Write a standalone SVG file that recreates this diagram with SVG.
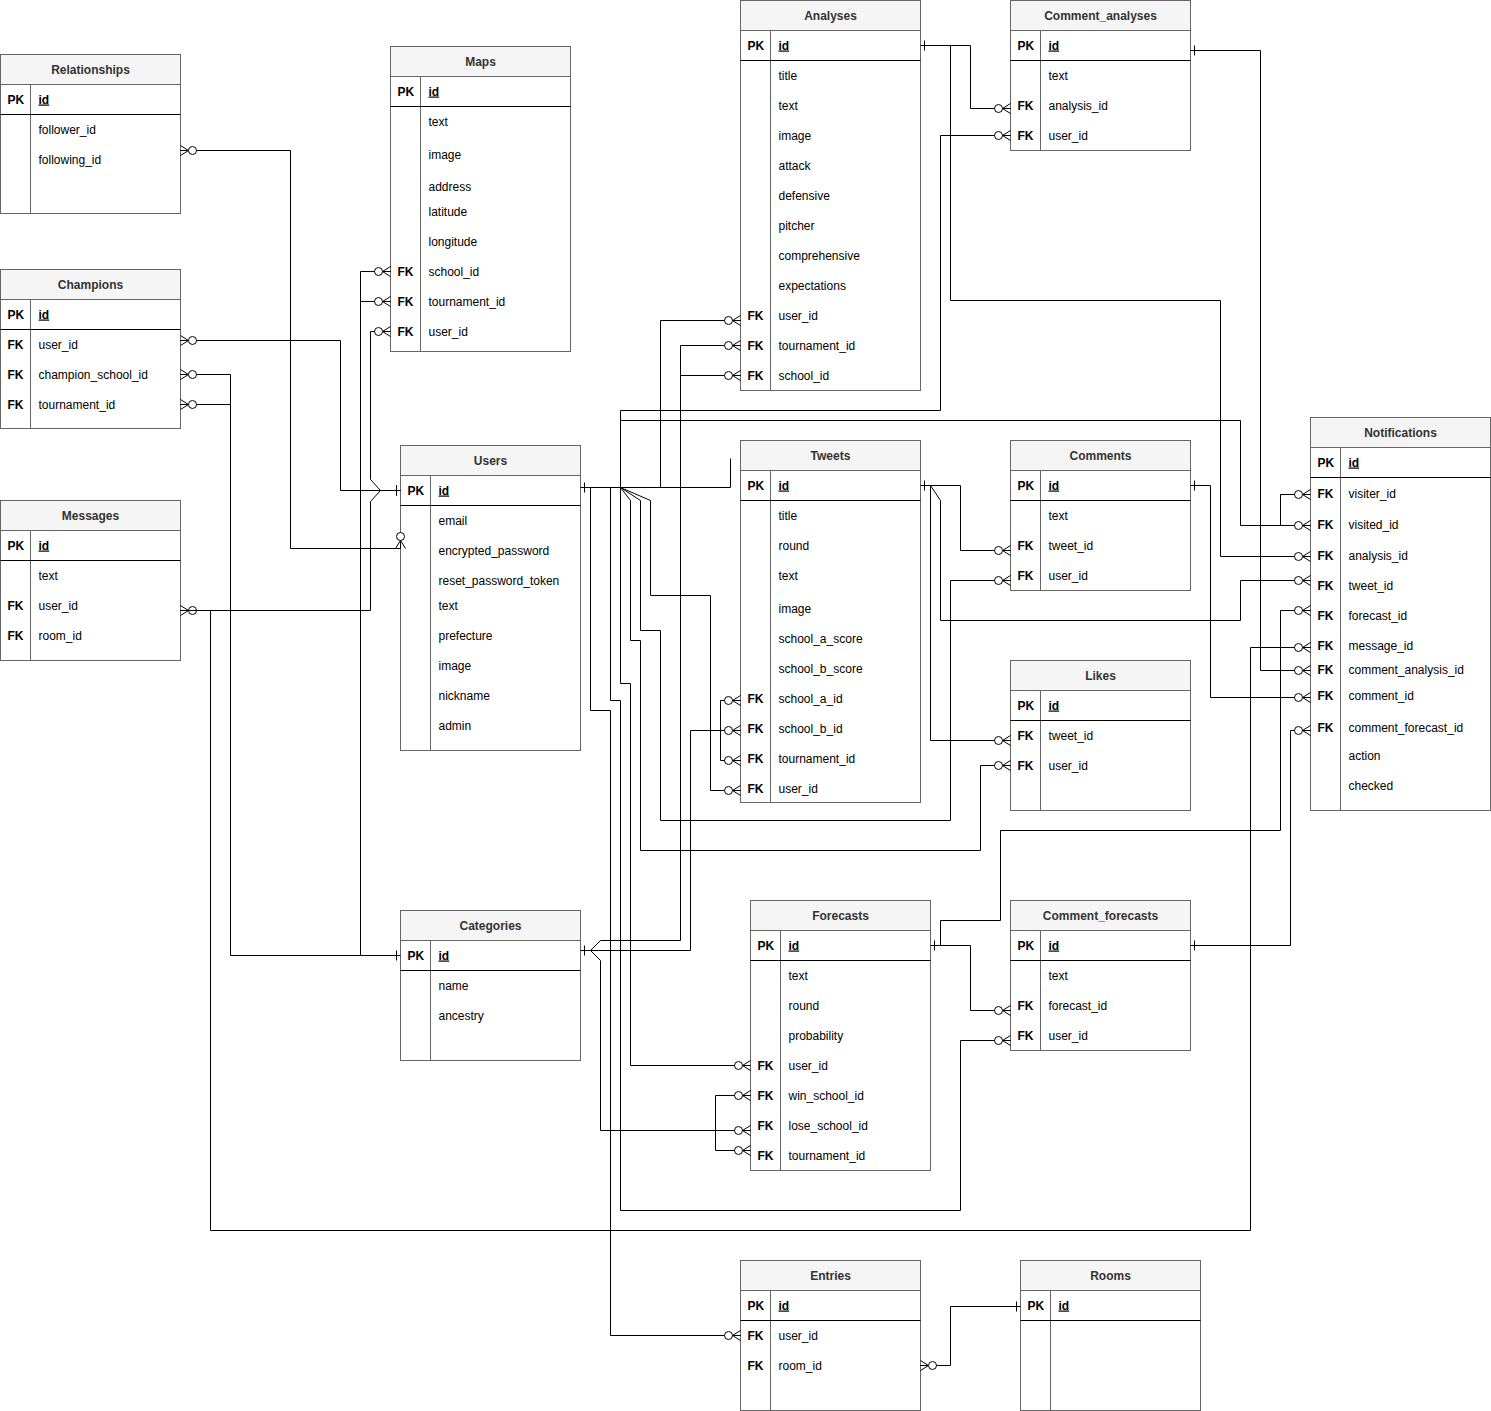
<svg xmlns="http://www.w3.org/2000/svg" width="1491" height="1411" viewBox="0 0 1491 1411">
<defs>
<style>
.bx{fill:#fff;stroke:#666;stroke-width:1}
.hd{fill:#f5f5f5;stroke:#666;stroke-width:1}
.sp{stroke:#000;stroke-width:1}
.dv{stroke:#666;stroke-width:1}
.tt{font-family:"Liberation Sans",Arial,sans-serif;font-size:12px;font-weight:bold;fill:#333;text-anchor:middle}
.k{font-family:"Liberation Sans",Arial,sans-serif;font-size:12px;font-weight:bold;fill:#000}
.f{font-family:"Liberation Sans",Arial,sans-serif;font-size:12px;fill:#000}
.u{text-decoration:underline}
.e{fill:none;stroke:#000;stroke-width:1}
.zm{marker-end:url(#zm)}
.zs{marker-start:url(#zm)}
.os{marker-start:url(#one)}
.oe{marker-end:url(#one)}
</style>
<marker id="zm" markerUnits="userSpaceOnUse" markerWidth="20" markerHeight="14" viewBox="-18 -7 20 14" refX="0" refY="0" orient="auto-start-reverse" overflow="visible">
<path d="M-8,0 L0,-5 M-8,0 L0,5 M-8,0 L0,0" fill="none" stroke="#000" stroke-width="1"/>
<circle cx="-12" cy="0" r="4" fill="#fff" stroke="#000" stroke-width="1"/>
</marker>
<marker id="one" markerUnits="userSpaceOnUse" markerWidth="12" markerHeight="14" viewBox="-10 -7 12 14" refX="0" refY="0" orient="auto-start-reverse" overflow="visible">
<path d="M-4,-5 L-4,5" fill="none" stroke="#000" stroke-width="1"/>
</marker>
</defs>
<rect width="1491" height="1411" fill="#fff"/>
<g transform="translate(0.5,0.5)">

<g id="Relationships">
<rect class="bx" x="0" y="54" width="180" height="159"/>
<rect class="hd" x="0" y="54" width="180" height="30"/>
<line class="dv" x1="30" y1="84" x2="30" y2="213"/>
<line class="sp" x1="0" y1="114" x2="180" y2="114"/>
<text class="tt" x="90" y="73">Relationships</text>
<text class="k" x="7" y="103">PK</text><text class="k u" x="38" y="103">id</text>
<text class="f" x="38" y="133">follower_id</text>
<text class="f" x="38" y="163">following_id</text>
</g>

<g id="Champions">
<rect class="bx" x="0" y="269" width="180" height="159"/>
<rect class="hd" x="0" y="269" width="180" height="30"/>
<line class="dv" x1="30" y1="299" x2="30" y2="428"/>
<line class="sp" x1="0" y1="329" x2="180" y2="329"/>
<text class="tt" x="90" y="288">Champions</text>
<text class="k" x="7" y="318">PK</text><text class="k u" x="38" y="318">id</text>
<text class="k" x="7" y="348">FK</text><text class="f" x="38" y="348">user_id</text>
<text class="k" x="7" y="378">FK</text><text class="f" x="38" y="378">champion_school_id</text>
<text class="k" x="7" y="408">FK</text><text class="f" x="38" y="408">tournament_id</text>
</g>

<g id="Messages">
<rect class="bx" x="0" y="500" width="180" height="160"/>
<rect class="hd" x="0" y="500" width="180" height="30"/>
<line class="dv" x1="30" y1="530" x2="30" y2="660"/>
<line class="sp" x1="0" y1="560" x2="180" y2="560"/>
<text class="tt" x="90" y="519">Messages</text>
<text class="k" x="7" y="549">PK</text><text class="k u" x="38" y="549">id</text>
<text class="f" x="38" y="579">text</text>
<text class="k" x="7" y="609">FK</text><text class="f" x="38" y="609">user_id</text>
<text class="k" x="7" y="639">FK</text><text class="f" x="38" y="639">room_id</text>
</g>

<g id="Maps">
<rect class="bx" x="390" y="46" width="180" height="305"/>
<rect class="hd" x="390" y="46" width="180" height="30"/>
<line class="dv" x1="420" y1="76" x2="420" y2="351"/>
<line class="sp" x1="390" y1="106" x2="570" y2="106"/>
<text class="tt" x="480" y="65">Maps</text>
<text class="k" x="397" y="95">PK</text><text class="k u" x="428" y="95">id</text>
<text class="f" x="428" y="125">text</text>
<text class="f" x="428" y="158">image</text>
<text class="f" x="428" y="190">address</text>
<text class="f" x="428" y="215">latitude</text>
<text class="f" x="428" y="245">longitude</text>
<text class="k" x="397" y="275">FK</text><text class="f" x="428" y="275">school_id</text>
<text class="k" x="397" y="305">FK</text><text class="f" x="428" y="305">tournament_id</text>
<text class="k" x="397" y="335">FK</text><text class="f" x="428" y="335">user_id</text>
</g>

<g id="Users">
<rect class="bx" x="400" y="445" width="180" height="305"/>
<rect class="hd" x="400" y="445" width="180" height="30"/>
<line class="dv" x1="430" y1="475" x2="430" y2="750"/>
<line class="sp" x1="400" y1="505" x2="580" y2="505"/>
<text class="tt" x="490" y="464">Users</text>
<text class="k" x="407" y="494">PK</text><text class="k u" x="438" y="494">id</text>
<text class="f" x="438" y="524">email</text>
<text class="f" x="438" y="554">encrypted_password</text>
<text class="f" x="438" y="584">reset_password_token</text>
<text class="f" x="438" y="609">text</text>
<text class="f" x="438" y="639">prefecture</text>
<text class="f" x="438" y="669">image</text>
<text class="f" x="438" y="699">nickname</text>
<text class="f" x="438" y="729">admin</text>
</g>

<g id="Categories">
<rect class="bx" x="400" y="910" width="180" height="150"/>
<rect class="hd" x="400" y="910" width="180" height="30"/>
<line class="dv" x1="430" y1="940" x2="430" y2="1060"/>
<line class="sp" x1="400" y1="970" x2="580" y2="970"/>
<text class="tt" x="490" y="929">Categories</text>
<text class="k" x="407" y="959">PK</text><text class="k u" x="438" y="959">id</text>
<text class="f" x="438" y="989">name</text>
<text class="f" x="438" y="1019">ancestry</text>
</g>

<g id="Analyses">
<rect class="bx" x="740" y="0" width="180" height="390"/>
<rect class="hd" x="740" y="0" width="180" height="30"/>
<line class="dv" x1="770" y1="30" x2="770" y2="390"/>
<line class="sp" x1="740" y1="60" x2="920" y2="60"/>
<text class="tt" x="830" y="19">Analyses</text>
<text class="k" x="747" y="49">PK</text><text class="k u" x="778" y="49">id</text>
<text class="f" x="778" y="79">title</text>
<text class="f" x="778" y="109">text</text>
<text class="f" x="778" y="139">image</text>
<text class="f" x="778" y="169">attack</text>
<text class="f" x="778" y="199">defensive</text>
<text class="f" x="778" y="229">pitcher</text>
<text class="f" x="778" y="259">comprehensive</text>
<text class="f" x="778" y="289">expectations</text>
<text class="k" x="747" y="319">FK</text><text class="f" x="778" y="319">user_id</text>
<text class="k" x="747" y="349">FK</text><text class="f" x="778" y="349">tournament_id</text>
<text class="k" x="747" y="379">FK</text><text class="f" x="778" y="379">school_id</text>
</g>

<g id="Comment_analyses">
<rect class="bx" x="1010" y="0" width="180" height="150"/>
<rect class="hd" x="1010" y="0" width="180" height="30"/>
<line class="dv" x1="1040" y1="30" x2="1040" y2="150"/>
<line class="sp" x1="1010" y1="60" x2="1190" y2="60"/>
<text class="tt" x="1100" y="19">Comment_analyses</text>
<text class="k" x="1017" y="49">PK</text><text class="k u" x="1048" y="49">id</text>
<text class="f" x="1048" y="79">text</text>
<text class="k" x="1017" y="109">FK</text><text class="f" x="1048" y="109">analysis_id</text>
<text class="k" x="1017" y="139">FK</text><text class="f" x="1048" y="139">user_id</text>
</g>

<g id="Tweets">
<rect class="bx" x="740" y="440" width="180" height="362"/>
<rect class="hd" x="740" y="440" width="180" height="30"/>
<line class="dv" x1="770" y1="470" x2="770" y2="802"/>
<line class="sp" x1="740" y1="500" x2="920" y2="500"/>
<text class="tt" x="830" y="459">Tweets</text>
<text class="k" x="747" y="489">PK</text><text class="k u" x="778" y="489">id</text>
<text class="f" x="778" y="519">title</text>
<text class="f" x="778" y="549">round</text>
<text class="f" x="778" y="579">text</text>
<text class="f" x="778" y="612">image</text>
<text class="f" x="778" y="642">school_a_score</text>
<text class="f" x="778" y="672">school_b_score</text>
<text class="k" x="747" y="702">FK</text><text class="f" x="778" y="702">school_a_id</text>
<text class="k" x="747" y="732">FK</text><text class="f" x="778" y="732">school_b_id</text>
<text class="k" x="747" y="762">FK</text><text class="f" x="778" y="762">tournament_id</text>
<text class="k" x="747" y="792">FK</text><text class="f" x="778" y="792">user_id</text>
</g>

<g id="Comments">
<rect class="bx" x="1010" y="440" width="180" height="150"/>
<rect class="hd" x="1010" y="440" width="180" height="30"/>
<line class="dv" x1="1040" y1="470" x2="1040" y2="590"/>
<line class="sp" x1="1010" y1="500" x2="1190" y2="500"/>
<text class="tt" x="1100" y="459">Comments</text>
<text class="k" x="1017" y="489">PK</text><text class="k u" x="1048" y="489">id</text>
<text class="f" x="1048" y="519">text</text>
<text class="k" x="1017" y="549">FK</text><text class="f" x="1048" y="549">tweet_id</text>
<text class="k" x="1017" y="579">FK</text><text class="f" x="1048" y="579">user_id</text>
</g>

<g id="Likes">
<rect class="bx" x="1010" y="660" width="180" height="150"/>
<rect class="hd" x="1010" y="660" width="180" height="30"/>
<line class="dv" x1="1040" y1="690" x2="1040" y2="810"/>
<line class="sp" x1="1010" y1="720" x2="1190" y2="720"/>
<text class="tt" x="1100" y="679">Likes</text>
<text class="k" x="1017" y="709">PK</text><text class="k u" x="1048" y="709">id</text>
<text class="k" x="1017" y="739">FK</text><text class="f" x="1048" y="739">tweet_id</text>
<text class="k" x="1017" y="769">FK</text><text class="f" x="1048" y="769">user_id</text>
</g>

<g id="Notifications">
<rect class="bx" x="1310" y="417" width="180" height="393"/>
<rect class="hd" x="1310" y="417" width="180" height="30"/>
<line class="dv" x1="1340" y1="447" x2="1340" y2="810"/>
<line class="sp" x1="1310" y1="477" x2="1490" y2="477"/>
<text class="tt" x="1400" y="436">Notifications</text>
<text class="k" x="1317" y="466">PK</text><text class="k u" x="1348" y="466">id</text>
<text class="k" x="1317" y="497">FK</text><text class="f" x="1348" y="497">visiter_id</text>
<text class="k" x="1317" y="528">FK</text><text class="f" x="1348" y="528">visited_id</text>
<text class="k" x="1317" y="559">FK</text><text class="f" x="1348" y="559">analysis_id</text>
<text class="k" x="1317" y="589">FK</text><text class="f" x="1348" y="589">tweet_id</text>
<text class="k" x="1317" y="619">FK</text><text class="f" x="1348" y="619">forecast_id</text>
<text class="k" x="1317" y="649">FK</text><text class="f" x="1348" y="649">message_id</text>
<text class="k" x="1317" y="673">FK</text><text class="f" x="1348" y="673">comment_analysis_id</text>
<text class="k" x="1317" y="699">FK</text><text class="f" x="1348" y="699">comment_id</text>
<text class="k" x="1317" y="731">FK</text><text class="f" x="1348" y="731">comment_forecast_id</text>
<text class="f" x="1348" y="759">action</text>
<text class="f" x="1348" y="789">checked</text>
</g>

<g id="Forecasts">
<rect class="bx" x="750" y="900" width="180" height="270"/>
<rect class="hd" x="750" y="900" width="180" height="30"/>
<line class="dv" x1="780" y1="930" x2="780" y2="1170"/>
<line class="sp" x1="750" y1="960" x2="930" y2="960"/>
<text class="tt" x="840" y="919">Forecasts</text>
<text class="k" x="757" y="949">PK</text><text class="k u" x="788" y="949">id</text>
<text class="f" x="788" y="979">text</text>
<text class="f" x="788" y="1009">round</text>
<text class="f" x="788" y="1039">probability</text>
<text class="k" x="757" y="1069">FK</text><text class="f" x="788" y="1069">user_id</text>
<text class="k" x="757" y="1099">FK</text><text class="f" x="788" y="1099">win_school_id</text>
<text class="k" x="757" y="1129">FK</text><text class="f" x="788" y="1129">lose_school_id</text>
<text class="k" x="757" y="1159">FK</text><text class="f" x="788" y="1159">tournament_id</text>
</g>

<g id="Comment_forecasts">
<rect class="bx" x="1010" y="900" width="180" height="150"/>
<rect class="hd" x="1010" y="900" width="180" height="30"/>
<line class="dv" x1="1040" y1="930" x2="1040" y2="1050"/>
<line class="sp" x1="1010" y1="960" x2="1190" y2="960"/>
<text class="tt" x="1100" y="919">Comment_forecasts</text>
<text class="k" x="1017" y="949">PK</text><text class="k u" x="1048" y="949">id</text>
<text class="f" x="1048" y="979">text</text>
<text class="k" x="1017" y="1009">FK</text><text class="f" x="1048" y="1009">forecast_id</text>
<text class="k" x="1017" y="1039">FK</text><text class="f" x="1048" y="1039">user_id</text>
</g>

<g id="Entries">
<rect class="bx" x="740" y="1260" width="180" height="150"/>
<rect class="hd" x="740" y="1260" width="180" height="30"/>
<line class="dv" x1="770" y1="1290" x2="770" y2="1410"/>
<line class="sp" x1="740" y1="1320" x2="920" y2="1320"/>
<text class="tt" x="830" y="1279">Entries</text>
<text class="k" x="747" y="1309">PK</text><text class="k u" x="778" y="1309">id</text>
<text class="k" x="747" y="1339">FK</text><text class="f" x="778" y="1339">user_id</text>
<text class="k" x="747" y="1369">FK</text><text class="f" x="778" y="1369">room_id</text>
</g>

<g id="Rooms">
<rect class="bx" x="1020" y="1260" width="180" height="150"/>
<rect class="hd" x="1020" y="1260" width="180" height="30"/>
<line class="dv" x1="1050" y1="1290" x2="1050" y2="1410"/>
<line class="sp" x1="1020" y1="1320" x2="1200" y2="1320"/>
<text class="tt" x="1110" y="1279">Rooms</text>
<text class="k" x="1027" y="1309">PK</text><text class="k u" x="1058" y="1309">id</text>
</g>

<g id="connectors">
<path class="e zs" d="M180,150 H290 V548 H400"/>
<path class="e zm" d="M400,539 V548"/>
<path class="e zs oe" d="M180,340 H340 V490 H400"/>
<path class="e zs oe" d="M390,331 H370 V479 L380,490 H400"/>
<path class="e zs oe" d="M180,610 H370 V501 L380,490 H400"/>
<path class="e zs oe" d="M390,271 H360 V955 H400"/>
<path class="e zs" d="M390,301 H360"/>
<path class="e zs" d="M180,374 H230 V955 H360"/>
<path class="e zs" d="M180,404 H230"/>
<path class="e zm" d="M180,610 H210 V1230 H1250 V647 H1310"/>
<path class="e os zm" d="M580,487 H660 V320 H740"/>
<path class="e zm" d="M620,487 V410 H940 V135 H1010"/>
<path class="e zm" d="M620,420 H1240 V525 H1310"/>
<path class="e zm" d="M1280,525 V494 H1310"/>
<path class="e" d="M660,487 H730 V458"/>
<path class="e zm" d="M620,487 L650,500 V595 H710 V790 H740"/>
<path class="e zm" d="M620,487 L640,500 V630 H660 V820 H950 V580 H1010"/>
<path class="e zm" d="M620,487 L630,500 V640 H640 V850 H980 V765 H1010"/>
<path class="e zm" d="M620,487 V683 H630 V1065 H750"/>
<path class="e zm" d="M610,487 V700 H620 V1210 H960 V1040 H1010"/>
<path class="e zm" d="M590,487 V710 H610 V1335 H740"/>
<path class="e os zm" d="M920,485 H960 V550 H1010"/>
<path class="e zm" d="M930,485 V740 H1010"/>
<path class="e zm" d="M930,485 L940,500 V620 H1240 V580 H1310"/>
<path class="e os zm" d="M920,45 H970 V108 H1010"/>
<path class="e zm" d="M950,45 V300 H1220 V556 H1310"/>
<path class="e os zm" d="M1190,50 H1260 V670 H1310"/>
<path class="e os zm" d="M1190,485 H1210 V697 H1310"/>
<path class="e os zm" d="M1190,945 H1290 V730 H1310"/>
<path class="e os zm" d="M930,945 H940 V920 H1000 V830 H1280 V610 H1310"/>
<path class="e zm" d="M940,945 H970 V1010 H1010"/>
<path class="e os zm" d="M580,950 H590 L600,940 H680 V345 H740"/>
<path class="e zm" d="M680,375 H740"/>
<path class="e zm" d="M590,950 H690 V730 H740"/>
<path class="e zm" d="M720,730 V700 H740"/>
<path class="e zm" d="M720,730 V760 H740"/>
<path class="e zm" d="M590,950 L600,960 V1130 H750"/>
<path class="e zm" d="M715,1130 V1095 H750"/>
<path class="e zm" d="M715,1130 V1150 H750"/>
<path class="e zs oe" d="M920,1365 H950 V1306 H1020"/>
</g>
</g>
</svg>
